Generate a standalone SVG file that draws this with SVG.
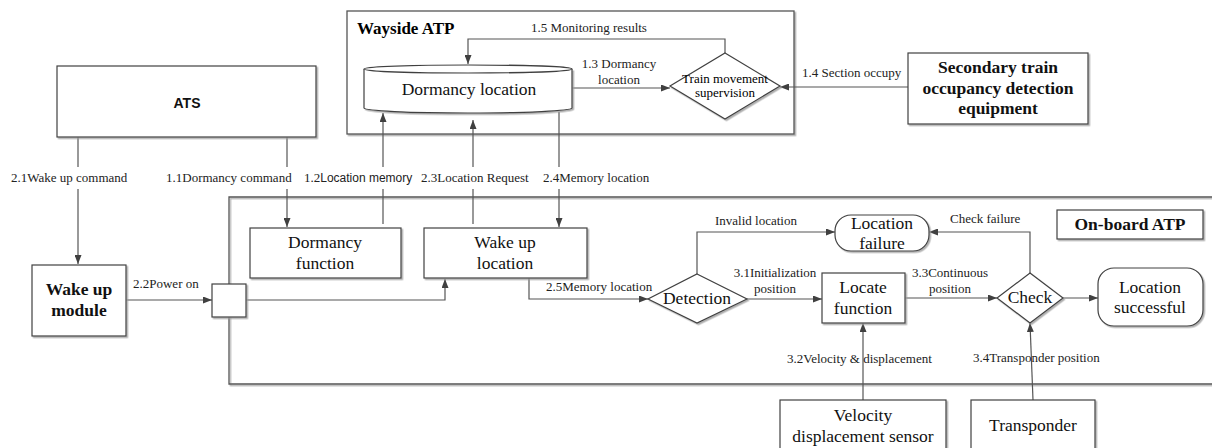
<svg xmlns="http://www.w3.org/2000/svg" width="1212" height="448" viewBox="0 0 1212 448">
<defs>
<filter id="sh" x="-10%" y="-10%" width="130%" height="130%">
<feDropShadow dx="1.5" dy="1.5" stdDeviation="0.6" flood-color="#9a9a9a" flood-opacity="0.8"/>
</filter>
<marker id="ah" markerWidth="9" markerHeight="7" refX="9" refY="3.5" orient="auto" markerUnits="userSpaceOnUse">
<path d="M0,0 L9,3.5 L0,7 Z" fill="#404040"/>
</marker>
<style>
.box{fill:#fff;stroke:#404040;stroke-width:1.2;filter:url(#sh)}
.frame{fill:none;stroke:#555;stroke-width:1.3}
.ln{fill:none;stroke:#555;stroke-width:1.2}
.ar{fill:none;stroke:#555;stroke-width:1.2;marker-end:url(#ah)}
.t{font-family:"Liberation Serif",serif;fill:#000}
.lb{font-family:"Liberation Serif",serif;font-size:13px;fill:#222}
.nt{font-family:"Liberation Serif",serif;font-size:17.5px;fill:#111;text-anchor:middle}
.bt{font-family:"Liberation Serif",serif;font-size:17.5px;font-weight:bold;fill:#111;text-anchor:middle}
.ss{font-family:"Liberation Sans",sans-serif}
</style>
</defs>
<rect width="1212" height="448" fill="#fff"/>

<!-- frames -->
<g id="wayside-atp">
<rect x="347" y="11" width="447" height="123" fill="#fff" stroke="#555" stroke-width="1.3" filter="url(#sh)"/>
<text class="t" x="357" y="34" font-size="17" font-weight="bold">Wayside ATP</text>
</g>
<g id="onboard-atp">
<path class="frame" d="M1212,197 L229,197 L229,384 L1212,384" filter="url(#sh)"/>
<rect class="box" x="1057" y="210" width="146" height="29"/>
<text class="bt" x="1130" y="230">On-board ATP</text>
</g>

<g id="connectors">
<!-- ATS outputs -->
<path class="ln" d="M78,137 V167"/>
<path class="ar" d="M78,189 V264"/>
<path class="ln" d="M287,137 V167"/>
<path class="ar" d="M287,189 V227"/>
<!-- 1.2 -->
<path class="ln" d="M383,224 V189"/>
<path class="ar" d="M383,167 V113"/>
<!-- 2.3 -->
<path class="ln" d="M473,224 V189"/>
<path class="ar" d="M473,167 V120"/>
<!-- 2.4 -->
<path class="ln" d="M559,112 V167"/>
<path class="ar" d="M559,189 V227"/>
<!-- 1.3 -->
<path class="ar" d="M572,88 H670"/>
<!-- 1.5 -->
<path class="ar" d="M725,53 V39 H468 V64"/>
<!-- 1.4 -->
<path class="ar" d="M908,87 H780"/>
<!-- 2.2 -->
<path class="ar" d="M126,300 H212"/>
<path class="ar" d="M246,300 H445 V279"/>
<!-- 2.5 -->
<path class="ar" d="M529,278 V299 H648"/>
<!-- invalid -->
<path class="ar" d="M697,274 V232 H835"/>
<!-- 3.1 -->
<path class="ar" d="M747,299 H822"/>
<!-- 3.3 -->
<path class="ar" d="M905,298 H997"/>
<!-- check failure -->
<path class="ar" d="M1030,273 V232 H929"/>
<!-- success -->
<path class="ar" d="M1063,298 H1098"/>
<!-- 3.2 -->
<path class="ar" d="M863,400 V323"/>
<!-- 3.4 -->
<path class="ar" d="M1033,400 L1030,323"/>
</g>

<g id="labels">
<text class="lb" x="11" y="182">2.1Wake up command</text>
<text class="lb" x="166" y="182">1.1Dormancy command</text>
<text class="lb" x="304" y="182">1.2<tspan class="ss" font-size="12">Location memory</tspan></text>
<text class="lb" x="421" y="182">2.3Location Request</text>
<text class="lb" x="543" y="182">2.4Memory location</text>
<text class="lb" x="531" y="32">1.5 Monitoring results</text>
<text class="lb" x="619" y="68" text-anchor="middle">1.3 Dormancy</text>
<text class="lb" x="619" y="84" text-anchor="middle">location</text>
<text class="lb" x="802" y="77">1.4 Section occupy</text>
<text class="lb" x="133" y="288">2.2Power on</text>
<text class="lb" x="546" y="291">2.5Memory location</text>
<text class="lb" x="715" y="225">Invalid location</text>
<text class="lb" x="950" y="223">Check failure</text>
<text class="lb" x="775" y="277" text-anchor="middle">3.1Initialization</text>
<text class="lb" x="775" y="293" text-anchor="middle">position</text>
<text class="lb" x="950" y="277" text-anchor="middle">3.3Continuous</text>
<text class="lb" x="950" y="293" text-anchor="middle">position</text>
<text class="lb" x="787" y="363">3.2Velocity &amp; displacement</text>
<text class="lb" x="973" y="362">3.4Transponder position</text>
</g>

<g id="ats">
<rect class="box" x="57" y="66" width="259" height="71"/>
<text x="187" y="108" font-family="Liberation Sans, sans-serif" font-size="14" font-weight="bold" text-anchor="middle" fill="#111">ATS</text>
</g>

<g id="dormancy-location">
<path d="M364,69 L364,108 A104,5 0 0 0 572,108 L572,69" fill="#fff" stroke="#404040" stroke-width="1.2" filter="url(#sh)"/>
<ellipse cx="468" cy="69" rx="104" ry="4" fill="#fff" stroke="#404040" stroke-width="1.2"/>
<text class="nt" x="469" y="95" font-size="18">Dormancy location</text>
</g>

<g id="train-movement-supervision">
<polygon class="box" points="725,53 780,86 725,119 670,86"/>
<text class="t" x="725" y="83" font-size="13" text-anchor="middle">Train movement</text>
<text class="t" x="725" y="97" font-size="13" text-anchor="middle">supervision</text>
</g>

<g id="secondary-detection">
<rect class="box" x="908" y="53" width="180" height="71"/>
<text class="bt" x="998" y="73">Secondary train</text>
<text class="bt" x="998" y="94">occupancy detection</text>
<text class="bt" x="998" y="114">equipment</text>
</g>

<g id="wake-up-module">
<rect class="box" x="32" y="265" width="94" height="71"/>
<text class="bt" x="79" y="295">Wake up</text>
<text class="bt" x="79" y="316">module</text>
</g>

<g id="power-switch">
<rect class="box" x="212" y="284" width="34" height="33"/>
</g>

<g id="dormancy-function">
<rect class="box" x="250" y="228" width="151" height="50"/>
<text class="nt" x="325" y="248">Dormancy</text>
<text class="nt" x="325" y="269">function</text>
</g>

<g id="wake-up-location">
<rect class="box" x="424" y="228" width="163" height="50"/>
<text class="nt" x="505" y="248">Wake up</text>
<text class="nt" x="505" y="269">location</text>
</g>

<g id="detection">
<polygon class="box" points="697,274 747,299 697,323 648,299"/>
<text class="nt" x="697" y="304">Detection</text>
</g>

<g id="location-failure">
<rect class="box" x="835" y="215" width="94" height="36" rx="16"/>
<text class="nt" x="882" y="229">Location</text>
<text class="nt" x="882" y="249">failure</text>
</g>

<g id="locate-function">
<rect class="box" x="822" y="273" width="83" height="50"/>
<text class="nt" x="863" y="293">Locate</text>
<text class="nt" x="863" y="314">function</text>
</g>

<g id="check">
<polygon class="box" points="1030,273 1063,298 1030,323 997,298"/>
<text class="nt" x="1030" y="303">Check</text>
</g>

<g id="location-successful">
<rect class="box" x="1098" y="268" width="105" height="58" rx="16"/>
<text class="nt" x="1150" y="293">Location</text>
<text class="nt" x="1150" y="313">successful</text>
</g>

<g id="velocity-sensor">
<rect class="box" x="780" y="400" width="166" height="60"/>
<text class="nt" x="863" y="421">Velocity</text>
<text class="nt" x="863" y="442">displacement sensor</text>
</g>

<g id="transponder">
<rect class="box" x="971" y="400" width="124" height="60"/>
<text class="nt" x="1033" y="431">Transponder</text>
</g>
</svg>
